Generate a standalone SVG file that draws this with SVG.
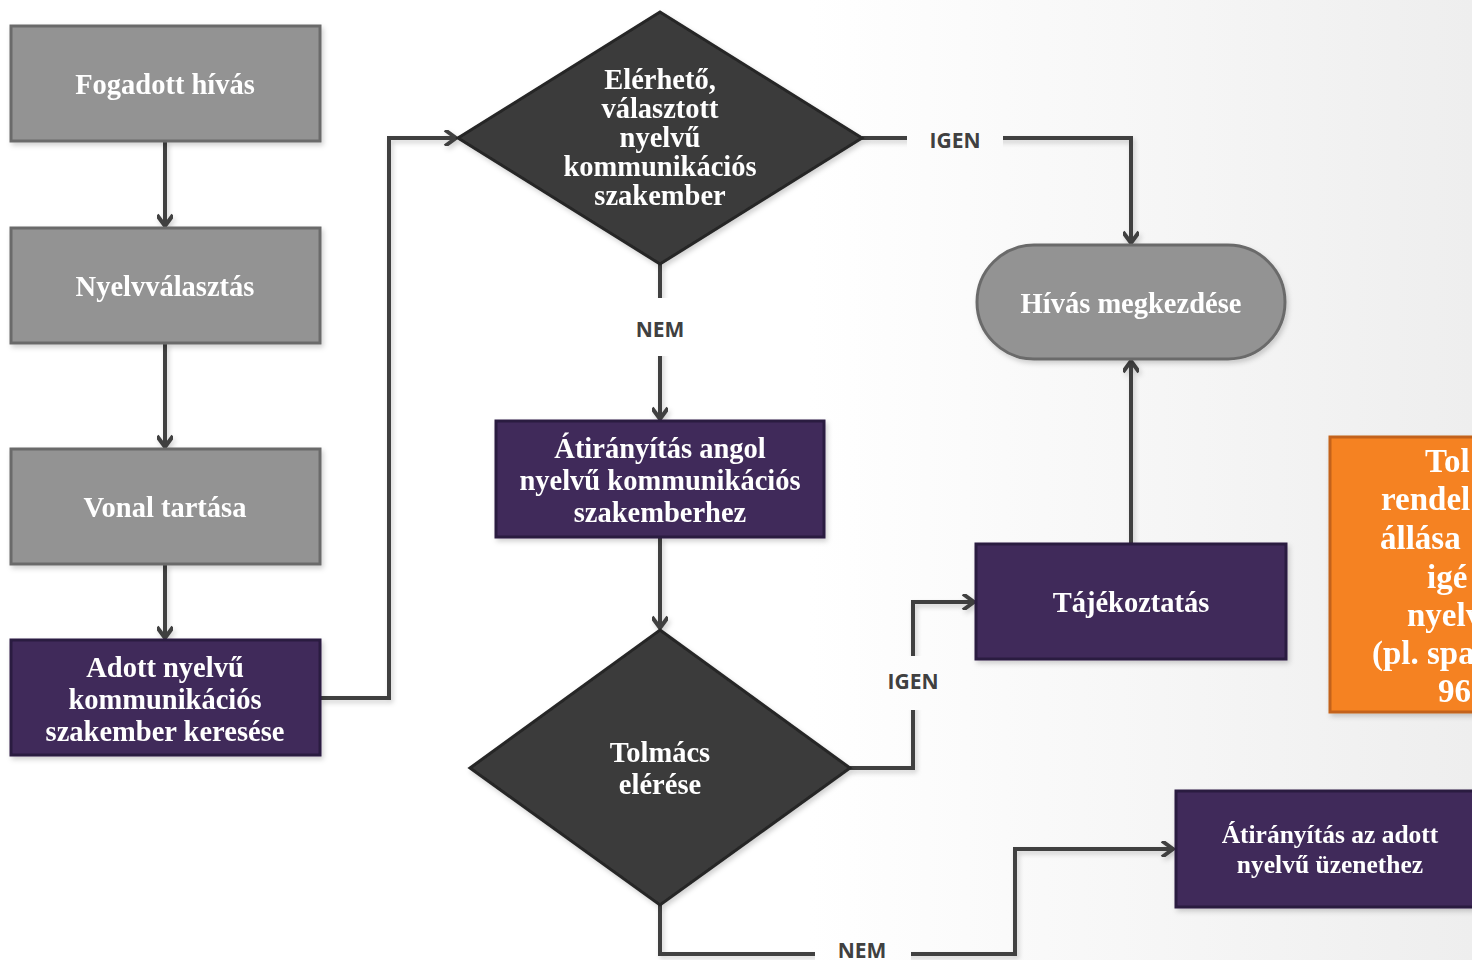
<svg xmlns="http://www.w3.org/2000/svg" width="1472" height="960" viewBox="0 0 1472 960">
<defs>
<linearGradient id="bg" gradientUnits="userSpaceOnUse" x1="0" y1="0" x2="1472" y2="0">
<stop offset="0" stop-color="#ffffff"/>
<stop offset="0.55" stop-color="#ffffff"/>
<stop offset="1" stop-color="#eeeeee"/>
</linearGradient>
<filter id="sh" x="-10%" y="-10%" width="120%" height="130%">
<feDropShadow dx="2" dy="3" stdDeviation="2.5" flood-color="#000" flood-opacity="0.18"/>
</filter>
<marker id="arr" markerWidth="16" markerHeight="16" viewBox="-14 -8 16 16" refX="0" refY="0" orient="auto" markerUnits="userSpaceOnUse">
<path d="M-11,-8 L0,0 L-11,8" fill="none" stroke="#404040" stroke-width="4" stroke-linejoin="miter"/>
</marker>
</defs>
<style>
.gray{fill:#939393;stroke:#6b6b6b;stroke-width:3}
.purple{fill:#412c5a;stroke:#2a1a40;stroke-width:3}
.dark{fill:#3b3b3b;stroke:#262626;stroke-width:3}
.orange{fill:#f58220;stroke:#c3621c;stroke-width:3}
.t{font-family:"Liberation Serif","DejaVu Serif",serif;font-weight:bold;font-size:28.5px;fill:#ffffff;text-anchor:middle}
.tl{font-family:"Liberation Serif","DejaVu Serif",serif;font-weight:bold;font-size:33px;fill:#ffffff}
.ts{font-family:"Liberation Serif","DejaVu Serif",serif;font-weight:bold;font-size:25.5px;fill:#ffffff;text-anchor:middle}
.c{fill:none;stroke:#404040;stroke-width:4}
.lbl{font-family:"Open Sans","Liberation Sans",sans-serif;font-weight:bold;font-size:21px;fill:#404040;text-anchor:middle}
.lb{fill:url(#bg)}
</style>
<rect x="0" y="0" width="1472" height="960" fill="url(#bg)"/>

<g id="connectors" filter="url(#sh)">
<path class="c" d="M165,141 V226" marker-end="url(#arr)"/>
<path class="c" d="M165,343 V447" marker-end="url(#arr)"/>
<path class="c" d="M165,564 V638" marker-end="url(#arr)"/>
<path class="c" d="M320,698 H389 V138 H456" marker-end="url(#arr)"/>
<path class="c" d="M862,138 H1131 V243" marker-end="url(#arr)"/>
<path class="c" d="M660,264 V419" marker-end="url(#arr)"/>
<path class="c" d="M660,537 V628" marker-end="url(#arr)"/>
<path class="c" d="M850,768 H913 V602 H974" marker-end="url(#arr)"/>
<path class="c" d="M660,905 V954 H1015 V849 H1173" marker-end="url(#arr)"/>
<path class="c" d="M1131,544 V361" marker-end="url(#arr)"/>
</g>
<g id="labels">
<rect class="lb" x="907" y="124" width="96" height="32"/>
<text class="lbl" x="955" y="148">IGEN</text>
<rect class="lb" x="630" y="298" width="60" height="58"/>
<text class="lbl" x="660" y="337">NEM</text>
<rect class="lb" x="880" y="656" width="66" height="54"/>
<text class="lbl" x="913" y="689">IGEN</text>
<rect class="lb" x="815" y="940" width="96" height="20"/>
<text class="lbl" x="862" y="958">NEM</text>
</g>

<g id="n1" filter="url(#sh)"><rect class="gray" x="11" y="26" width="309" height="115"/><text class="t" x="165" y="94">Fogadott hívás</text></g>
<g id="n2" filter="url(#sh)"><rect class="gray" x="11" y="228" width="309" height="115"/><text class="t" x="165" y="296">Nyelvválasztás</text></g>
<g id="n3" filter="url(#sh)"><rect class="gray" x="11" y="449" width="309" height="115"/><text class="t" x="165" y="517">Vonal tartása</text></g>
<g id="n4" filter="url(#sh)"><rect class="purple" x="11" y="640" width="309" height="115"/>
<text class="t" x="165" y="677">Adott nyelvű</text><text class="t" x="165" y="709">kommunikációs</text><text class="t" x="165" y="741">szakember keresése</text></g>

<g id="d1" filter="url(#sh)"><polygon class="dark" points="660,12 862,138 660,264 458,138"/>
<text class="t" x="660" y="89">Elérhető,</text><text class="t" x="660" y="118">választott</text><text class="t" x="660" y="147">nyelvű</text><text class="t" x="660" y="176">kommunikációs</text><text class="t" x="660" y="205">szakember</text></g>

<g id="n5" filter="url(#sh)"><rect class="purple" x="496" y="421" width="328" height="116"/>
<text class="t" x="660" y="458">Átirányítás angol</text><text class="t" x="660" y="490">nyelvű kommunikációs</text><text class="t" x="660" y="522">szakemberhez</text></g>

<g id="d2" filter="url(#sh)"><polygon class="dark" points="660,630 850,768 660,905 470,768"/>
<text class="t" x="660" y="762">Tolmács</text><text class="t" x="660" y="794">elérése</text></g>

<g id="n6" filter="url(#sh)"><rect class="gray" x="977" y="245" width="308" height="114" rx="57" ry="57"/><text class="t" x="1131" y="313">Hívás megkezdése</text></g>

<g id="n7" filter="url(#sh)"><rect class="purple" x="976" y="544" width="310" height="115"/><text class="t" x="1131" y="612">Tájékoztatás</text></g>

<g id="n8" filter="url(#sh)"><rect class="purple" x="1176" y="791" width="310" height="116"/>
<text class="ts" x="1330" y="843">Átirányítás az adott</text><text class="ts" x="1330" y="873">nyelvű üzenethez</text></g>

<g id="n9" filter="url(#sh)"><rect class="orange" x="1330" y="437" width="160" height="275"/>
<text class="tl" x="1425" y="472">Tol</text>
<text class="tl" x="1381" y="510">rendel</text>
<text class="tl" x="1380" y="549">állása</text>
<text class="tl" x="1427" y="588">igé</text>
<text class="tl" x="1407" y="626">nyelv</text>
<text class="tl" x="1372" y="664">(pl. spa</text>
<text class="tl" x="1438" y="702">96</text>
</g>
</svg>
